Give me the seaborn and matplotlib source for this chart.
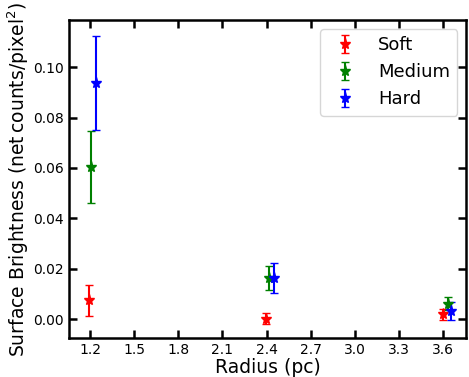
import matplotlib
matplotlib.use("Agg")
import matplotlib.pyplot as plt
import seaborn as sns
import numpy as np

# data
bands = ["Soft", "Medium", "Hard"]
band_colors = ["red", "green", "blue"]

soft_r = [1.19, 2.395, 3.60]
soft_sb = [0.0075, 0.0003, 0.0019]
soft_err = [0.0062, 0.0023, 0.0020]

medium_r = [1.21, 2.42, 3.63]
medium_sb = [0.0604, 0.0165, 0.0062]
medium_err = [0.0141, 0.0048, 0.0025]

hard_r = [1.24, 2.45, 3.655]
hard_sb = [0.0938, 0.0164, 0.0032]
hard_err = [0.0187, 0.0060, 0.0036]

x_ticks = [1.2, 1.5, 1.8, 2.1, 2.4, 2.7, 3.0, 3.3, 3.6]
y_ticks = [0.00, 0.02, 0.04, 0.06, 0.08, 0.10]

sns.set_style("ticks", {"axes.edgecolor": "black", "text.color": "black",
                        "axes.labelcolor": "black", "xtick.color": "black",
                        "ytick.color": "black"})
plt.rcParams["font.family"] = ["DejaVu Sans"]

fig, ax = plt.subplots(figsize=(4.69, 3.77), dpi=100)
fig.subplots_adjust(left=0.147, right=0.994, bottom=0.103, top=0.947)

series = [(soft_r, soft_sb, soft_err), (medium_r, medium_sb, medium_err), (hard_r, hard_sb, hard_err)]
for (r, sb, err), name, col in zip(series, bands, band_colors):
    ax.errorbar(r, sb, yerr=err, fmt="*", color=col, ecolor=col, markersize=8,
                elinewidth=1.5, capsize=3, capthick=1, label=name)

ax.set_xlim(1.057, 3.757)
ax.set_ylim(-0.0075, 0.1187)
ax.set_xticks(x_ticks)
ax.set_xticklabels([f"{t:.1f}" for t in x_ticks])
ax.set_yticks(y_ticks)
ax.set_yticklabels([f"{t:.2f}" for t in y_ticks])

ax.tick_params(direction="in", length=6, width=1.8, labelsize=10,
               top=True, right=True, colors="black")
for sp in ax.spines.values():
    sp.set_visible(True)
    sp.set_linewidth(1.8)
    sp.set_color("black")

ax.set_xlabel("Radius (pc)", fontsize=13.5, labelpad=1)
ax.set_ylabel(r"Surface Brightness ($\rm net\,counts/pixel^2$)", fontsize=13.5, labelpad=2)

ax.legend(loc="upper right", fontsize=13, frameon=True)

fig.savefig("out.png", dpi=100)
